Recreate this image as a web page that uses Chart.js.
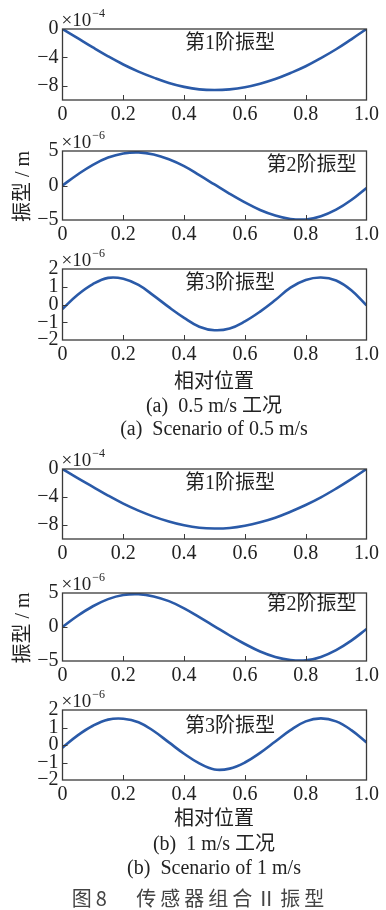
<!DOCTYPE html>
<html><head><meta charset="utf-8">
<script src="https://cdn.jsdelivr.net/npm/chart.js@4/dist/chart.umd.min.js"></script>
<style>
html,body{margin:0;padding:0;background:#fff;}
body{width:386px;height:910px;position:relative;overflow:hidden;}
canvas{position:absolute;left:0;}
.cap{position:absolute;left:-86px;width:600px;text-align:center;color:#222;white-space:nowrap;line-height:24px;height:24px;
 font-family:"Liberation Serif","Noto Sans CJK SC",serif;font-size:20px;}
</style></head><body>
<canvas id="c1a"></canvas><canvas id="c2a"></canvas><canvas id="c3a"></canvas>
<canvas id="c1b"></canvas><canvas id="c2b"></canvas><canvas id="c3b"></canvas>
<div class="cap" style="top:368px;font-family:'Noto Sans CJK SC';">相对位置</div>
<div class="cap" style="top:393px;">(a)&nbsp; 0.5 m/s 工况</div>
<div class="cap" style="top:416px;">(a)&nbsp; Scenario of 0.5 m/s</div>
<div class="cap" style="top:805px;font-family:'Noto Sans CJK SC';">相对位置</div>
<div class="cap" style="top:831px;">(b)&nbsp; 1 m/s 工况</div>
<div class="cap" style="top:855px;">(b)&nbsp; Scenario of 1 m/s</div>
<div class="cap" style="top:886px;left:-100px;font-family:'Noto Sans CJK SC';font-size:20px;color:#444;letter-spacing:4px;">图8&nbsp;&nbsp;&nbsp;传感器组合Ⅱ振型</div>
<script>
// ---------- DATA ----------
const xPos = [0,0.05,0.1,0.15,0.2,0.25,0.3,0.35,0.4,0.45,0.5,0.55,0.6,0.65,0.7,0.75,0.8,0.85,0.9,0.95,1.0];
const xTicks = [0,0.2,0.4,0.6,0.8,1.0];
// mode shapes, (a) 0.5 m/s
const mode1A = [0,-1.3,-2.6,-3.85,-5.0,-6.0,-6.85,-7.6,-8.15,-8.5,-8.6,-8.5,-8.2,-7.7,-7.05,-6.2,-5.25,-4.1,-2.85,-1.45,0];      // ×10^-4
const mode2A = [0,1.6,3.0,4.05,4.65,4.8,4.5,3.8,2.8,1.5,0.15,-1.2,-2.45,-3.55,-4.35,-4.85,-4.92,-4.45,-3.5,-2.1,-0.35];      // ×10^-6
const mode3A = [-0.25,0.55,1.15,1.5,1.45,1.1,0.5,-0.15,-0.75,-1.25,-1.45,-1.35,-0.95,-0.4,0.25,0.95,1.38,1.52,1.35,0.8,-0.05]; // ×10^-6
// mode shapes, (b) 1 m/s
const mode1B = [0,-1.3,-2.55,-3.8,-4.95,-5.95,-6.8,-7.5,-8.05,-8.4,-8.5,-8.42,-8.1,-7.6,-6.95,-6.1,-5.15,-4.05,-2.8,-1.45,0];   // ×10^-4
const mode2B = [0,1.65,3.05,4.1,4.7,4.82,4.5,3.8,2.75,1.45,0.1,-1.25,-2.5,-3.6,-4.4,-4.85,-4.9,-4.4,-3.4,-2.0,-0.3];       // ×10^-6
const mode3B = [-0.15,0.55,1.1,1.45,1.5,1.3,0.8,0.15,-0.5,-1.05,-1.4,-1.35,-1.0,-0.45,0.2,0.85,1.35,1.52,1.35,0.85,0.15];  // ×10^-6
// y tick labels / ranges
const yTicks1 = [-8,-4,0];  const yRange1 = [-10,0];  const exp1 = '−4';
const yTicks2 = [-5,0,5];   const yRange2 = [-5,5];   const exp2 = '−6';
const yTicks3 = [-2,-1,0,1,2]; const yRange3 = [-2,2]; const exp3 = '−6';
const modeLabels = ['第1阶振型','第2阶振型','第3阶振型'];
const yTitle = '振型 / m';

// ---------- STYLE ----------
const LINE = '#2a5aa8', AXIS = '#3a3a3a', TXT = '#222';
const SERIF = '"Liberation Serif"';
const CJK = '"Noto Sans CJK SC"';

const deco = {
  id:'deco',
  afterDraw(chart, args, o){
    const {ctx, chartArea:a, scales} = chart;
    ctx.save();
    ctx.strokeStyle = AXIS; ctx.lineWidth = 1;
    scales.x.ticks.forEach(t=>{
      if (t.value<=0 || t.value>=1) return;
      const px = Math.round(scales.x.getPixelForValue(t.value))+0.5;
      ctx.beginPath(); ctx.moveTo(px,a.bottom); ctx.lineTo(px,a.bottom-5); ctx.stroke();
    });
    scales.y.ticks.forEach(t=>{
      const py = Math.round(scales.y.getPixelForValue(t.value))+0.5;
      if (py<=a.top+1 || py>=a.bottom-1) return;
      ctx.beginPath(); ctx.moveTo(a.left,py); ctx.lineTo(a.left+5,py); ctx.stroke();
    });
    ctx.lineWidth = 1.3;
    ctx.strokeRect(a.left,a.top,a.right-a.left,a.bottom-a.top);
    // exponent
    ctx.fillStyle = TXT; ctx.textAlign='left'; ctx.textBaseline='alphabetic';
    ctx.font = '19px '+SERIF;
    const base = '×10';
    ctx.fillText(base, a.left-1, a.top-3);
    const w = ctx.measureText(base).width;
    ctx.font = '12px '+SERIF;
    ctx.fillText(o.exp, a.left-1+w+1, a.top-12);
    // mode label
    ctx.font = '20px '+SERIF+','+CJK; ctx.textAlign='center'; ctx.textBaseline='middle';
    ctx.fillText(o.label, a.left+o.dx, a.top+o.dy);
    // y title
    if (o.ytitle){
      ctx.save();
      ctx.translate(24,(a.top+a.bottom)/2+1);
      ctx.rotate(-Math.PI/2);
      ctx.font = '20px '+SERIF+','+CJK;
      ctx.textAlign='center'; ctx.textBaseline='middle';
      ctx.fillText(o.ytitle,0,0);
      ctx.restore();
    }
    ctx.restore();
  }
};

function fmtY(v){ return v===0?'0':(v<0?'−'+Math.abs(v):String(v)); }

function makePanel(id, plotTop, plotBottom, vals, yTicks, yRange, exp, label, dx, dy, ytitle){
  const PT = 26, XH = 26;
  const cv = document.getElementById(id);
  const h = Math.round(PT + (plotBottom-plotTop) + XH);
  cv.width = 386; cv.height = h;
  cv.style.top = (plotTop-PT)+'px';
  new Chart(cv, {
    type:'line',
    data:{ datasets:[{ data: xPos.map((x,i)=>({x:x,y:vals[i]})), borderColor:LINE, borderWidth:2.6,
      pointRadius:0, tension:0.4, fill:false }]},
    options:{
      responsive:false, animation:false, devicePixelRatio:1,
      layout:{padding:{top:PT,right:19.5,left:0,bottom:0}},
      plugins:{legend:{display:false},tooltip:{enabled:false},
        deco:{exp:exp,label:label,dx:dx,dy:dy,ytitle:ytitle}},
      scales:{
        x:{type:'linear',min:0,max:1,
          grid:{display:false,drawTicks:false}, border:{display:false},
          afterBuildTicks:s=>{s.ticks = xTicks.map(v=>({value:v}));},
          afterFit:s=>{s.height = XH; s.paddingLeft=0; s.paddingRight=0;},
          ticks:{autoSkip:false,maxRotation:0,padding:3,color:TXT,font:{family:'"Liberation Serif"',size:20},
            callback:v=> v===0?'0':Number(v).toFixed(1)}},
        y:{type:'linear',min:yRange[0],max:yRange[1],
          grid:{display:false,drawTicks:false}, border:{display:false},
          afterBuildTicks:s=>{s.ticks = yTicks.map(v=>({value:v}));},
          afterFit:s=>{s.width = 62.5; s.paddingTop=0; s.paddingBottom=0;},
          ticks:{autoSkip:false,padding:4,color:TXT,font:{family:'"Liberation Serif"',size:20},callback:fmtY}}
      }
    },
    plugins:[deco]
  });
}

function drawAll(){
  makePanel('c1a', 29, 100, mode1A, yTicks1, yRange1, exp1, modeLabels[0], 167.5, 14.5, null);
  makePanel('c2a', 150.5, 219.5, mode2A, yTicks2, yRange2, exp2, modeLabels[1], 249, 15, yTitle);
  makePanel('c3a', 269, 339.7, mode3A, yTicks3, yRange3, exp3, modeLabels[2], 167.5, 14.5, null);
  makePanel('c1b', 468.7, 538.7, mode1B, yTicks1, yRange1, exp1, modeLabels[0], 167.5, 14.5, null);
  makePanel('c2b', 592.7, 660.7, mode2B, yTicks2, yRange2, exp2, modeLabels[1], 249, 12, yTitle);
  makePanel('c3b', 709.7, 780, mode3B, yTicks3, yRange3, exp3, modeLabels[2], 167.5, 17, null);
}
Promise.all([
  document.fonts.load('20px "Liberation Serif"'),
  document.fonts.load('20px "Noto Sans CJK SC"', '第振型')
]).then(drawAll, drawAll);
</script>
</body></html>
